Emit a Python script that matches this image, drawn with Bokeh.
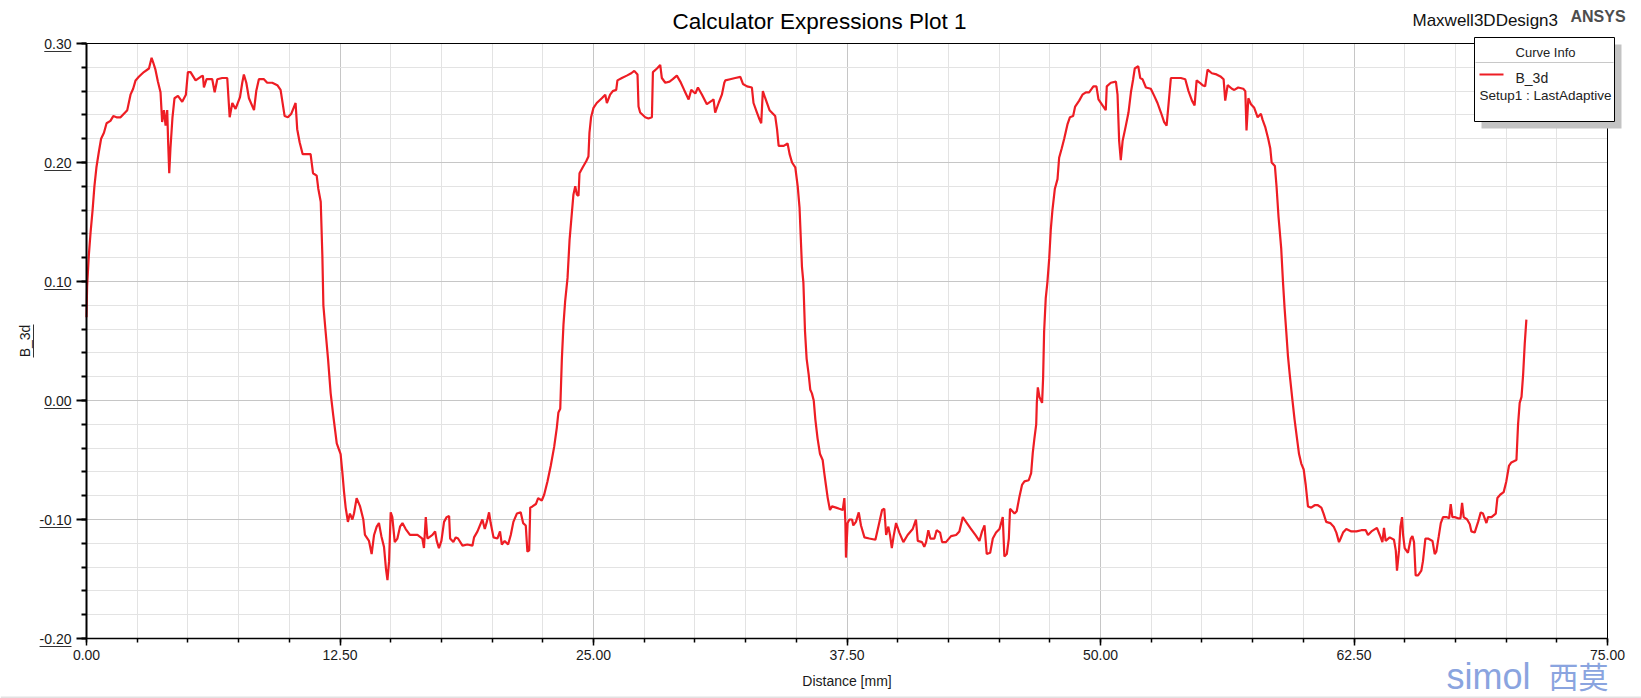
from bokeh.plotting import figure
from bokeh.models import (FixedTicker, NumeralTickFormatter, Label, BoxAnnotation, Range1d,
                          ColumnDataSource, Grid)
from bokeh.embed import file_html
from bokeh.resources import INLINE

FONT = "Liberation Sans"

# ---- data (distance mm, B_3d) ----
seg_1 = [(0.0, 0.070), (0.03, 0.096), (0.115, 0.122), (0.2, 0.141), (0.3, 0.160), (0.39, 0.180), (0.49, 0.196),
         (0.61, 0.209), (0.72, 0.220), (0.86, 0.225), (0.99, 0.233), (1.18, 0.235), (1.32, 0.239), (1.48, 0.238),
         (1.68, 0.238), (2.01, 0.244), (2.17, 0.257), (2.30, 0.262), (2.42, 0.269), (2.58, 0.272), (2.83, 0.276),
         (3.08, 0.279), (3.21, 0.288), (3.29, 0.284), (3.40, 0.278), (3.52, 0.268), (3.65, 0.259), (3.73, 0.234),
         (3.82, 0.244), (3.90, 0.231), (3.98, 0.244), (4.03, 0.215), (4.08, 0.191), (4.14, 0.212), (4.24, 0.238),
         (4.34, 0.254), (4.51, 0.256), (4.72, 0.251), (4.90, 0.257), (5.0, 0.276), (5.13, 0.276), (5.38, 0.269),
         (5.63, 0.272), (5.74, 0.273), (5.79, 0.263), (5.92, 0.270), (6.20, 0.270), (6.32, 0.259), (6.45, 0.270),
         (6.69, 0.271), (6.94, 0.271), (7.06, 0.238), (7.19, 0.250), (7.35, 0.245), (7.57, 0.255), (7.68, 0.267),
         (7.76, 0.274), (7.88, 0.267), (8.01, 0.254), (8.26, 0.244), (8.37, 0.260), (8.50, 0.270), (8.75, 0.270),
         (8.91, 0.267), (9.16, 0.267), (9.41, 0.265), (9.57, 0.261), (9.77, 0.239), (9.93, 0.238), (10.1, 0.241),
         (10.31, 0.250), (10.39, 0.228), (10.51, 0.217), (10.66, 0.207), (11.05, 0.207), (11.17, 0.191),
         (11.35, 0.189), (11.43, 0.178), (11.55, 0.167)]

seg_2 = [(11.63, 0.122), (11.68, 0.080), (11.79, 0.058), (11.91, 0.035), (12.04, 0.006), (12.17, -0.013),
         (12.34, -0.036), (12.53, -0.045), (12.62, -0.061), (12.70, -0.077), (12.78, -0.090), (12.89, -0.102),
         (12.99, -0.095), (13.11, -0.100), (13.19, -0.095), (13.32, -0.082), (13.49, -0.089), (13.65, -0.100),
         (13.73, -0.113), (13.93, -0.118), (14.06, -0.129), (14.18, -0.113), (14.31, -0.106), (14.42, -0.103),
         (14.54, -0.114), (14.67, -0.123), (14.77, -0.142), (14.84, -0.151), (14.92, -0.135), (15.00, -0.094),
         (15.08, -0.098), (15.20, -0.119), (15.33, -0.116), (15.46, -0.106), (15.58, -0.103), (15.74, -0.108),
         (15.95, -0.113), (16.32, -0.113), (16.56, -0.116), (16.64, -0.124), (16.73, -0.098), (16.81, -0.116),
         (17.06, -0.113), (17.19, -0.110), (17.27, -0.118), (17.38, -0.124), (17.50, -0.118), (17.63, -0.102),
         (17.76, -0.098), (17.88, -0.097), (17.93, -0.116), (18.09, -0.119), (18.21, -0.115), (18.32, -0.116),
         (18.54, -0.122), (18.78, -0.121), (19.03, -0.122), (19.11, -0.115), (19.28, -0.110), (19.52, -0.100),
         (19.64, -0.108), (19.74, -0.102), (19.85, -0.094), (19.93, -0.103), (20.07, -0.115), (20.26, -0.116),
         (20.39, -0.110), (20.48, -0.121), (20.62, -0.118), (20.79, -0.121), (20.92, -0.113), (21.05, -0.102),
         (21.22, -0.095), (21.41, -0.094), (21.53, -0.103), (21.66, -0.105), (21.74, -0.127), (21.83, -0.126),
         (21.88, -0.090), (21.99, -0.089), (22.16, -0.087), (22.27, -0.082), (22.45, -0.084), (22.57, -0.079),
         (22.73, -0.068), (22.89, -0.055), (23.06, -0.039), (23.19, -0.023), (23.27, -0.010), (23.36, -0.007)]

seg_3 = [(23.44, 0.035), (23.52, 0.064), (23.60, 0.083), (23.72, 0.103), (23.82, 0.135), (23.93, 0.157),
         (24.01, 0.173), (24.10, 0.180), (24.18, 0.173), (24.26, 0.172), (24.31, 0.191), (24.47, 0.196),
         (24.64, 0.201), (24.75, 0.205), (24.80, 0.225), (24.88, 0.238), (25.0, 0.246), (25.16, 0.250),
         (25.41, 0.254), (25.58, 0.257), (25.66, 0.250), (25.82, 0.257), (25.95, 0.260), (26.12, 0.261),
         (26.18, 0.269), (26.40, 0.271), (26.64, 0.273), (26.86, 0.275), (27.01, 0.277), (27.17, 0.274),
         (27.22, 0.247), (27.30, 0.242), (27.55, 0.238), (27.71, 0.237), (27.88, 0.238), (27.93, 0.276),
         (28.13, 0.279), (28.29, 0.282), (28.37, 0.271), (28.54, 0.267), (28.75, 0.268), (28.91, 0.270),
         (29.11, 0.273), (29.28, 0.268), (29.47, 0.261), (29.69, 0.253), (29.82, 0.261), (30.02, 0.258),
         (30.15, 0.263), (30.35, 0.257), (30.59, 0.249), (30.84, 0.252), (30.92, 0.253), (31.0, 0.242),
         (31.17, 0.250), (31.33, 0.257), (31.45, 0.267), (31.50, 0.269), (31.74, 0.270), (31.99, 0.271),
         (32.24, 0.272), (32.37, 0.266), (32.57, 0.264), (32.81, 0.263), (32.89, 0.250), (33.06, 0.242),
         (33.19, 0.236), (33.27, 0.233), (33.35, 0.260), (33.47, 0.254), (33.68, 0.244), (33.96, 0.239),
         (34.05, 0.228), (34.13, 0.214), (34.38, 0.214), (34.57, 0.216), (34.67, 0.207), (34.79, 0.200),
         (34.95, 0.196), (35.07, 0.180), (35.16, 0.162)]

seg_4 = [(35.28, 0.112), (35.35, 0.099), (35.43, 0.058), (35.51, 0.035), (35.61, 0.022), (35.69, 0.009),
         (35.77, 0.006), (35.86, 0.0), (35.94, -0.016), (36.05, -0.032), (36.17, -0.045), (36.30, -0.050),
         (36.38, -0.061), (36.46, -0.071), (36.55, -0.082), (36.66, -0.092), (36.76, -0.089), (36.96, -0.090),
         (37.12, -0.091), (37.29, -0.092), (37.37, -0.082), (37.42, -0.103), (37.45, -0.132), (37.53, -0.103),
         (37.62, -0.100), (37.75, -0.100), (37.81, -0.105), (37.94, -0.102), (38.08, -0.094), (38.19, -0.105),
         (38.36, -0.115), (38.60, -0.116), (38.90, -0.117), (39.06, -0.105), (39.23, -0.092), (39.34, -0.091),
         (39.43, -0.113), (39.54, -0.106), (39.62, -0.113), (39.71, -0.124), (39.80, -0.114), (39.92, -0.103),
         (40.08, -0.111), (40.28, -0.119), (40.49, -0.113), (40.74, -0.108), (40.90, -0.100), (40.99, -0.118),
         (41.20, -0.119), (41.31, -0.123), (41.40, -0.119), (41.51, -0.109), (41.61, -0.116), (41.81, -0.116),
         (41.92, -0.109), (42.09, -0.111), (42.19, -0.119), (42.38, -0.119), (42.63, -0.114), (42.88, -0.113),
         (43.04, -0.110), (43.21, -0.098), (43.37, -0.102), (43.62, -0.108), (43.83, -0.113), (44.03, -0.118),
         (44.16, -0.110), (44.28, -0.105), (44.39, -0.129), (44.56, -0.128), (44.69, -0.116), (44.85, -0.111),
         (45.02, -0.108), (45.18, -0.098), (45.26, -0.131), (45.38, -0.129), (45.48, -0.116), (45.54, -0.091),
         (45.76, -0.095), (45.87, -0.093), (46.00, -0.081), (46.13, -0.071), (46.25, -0.068), (46.46, -0.067),
         (46.58, -0.061), (46.66, -0.044), (46.74, -0.032), (46.83, -0.020), (46.86, -0.002), (46.91, 0.011),
         (46.99, 0.003), (47.12, -0.002)]

seg_5 = [(47.17, 0.019), (47.22, 0.058), (47.30, 0.086), (47.38, 0.099), (47.47, 0.119), (47.55, 0.144),
         (47.63, 0.160), (47.75, 0.178), (47.88, 0.186), (47.96, 0.204), (48.09, 0.212), (48.21, 0.220),
         (48.37, 0.232), (48.49, 0.238), (48.65, 0.239), (48.75, 0.247), (48.95, 0.252), (49.11, 0.257),
         (49.28, 0.259), (49.44, 0.259), (49.57, 0.262), (49.65, 0.264), (49.80, 0.264), (49.90, 0.253),
         (50.10, 0.248), (50.26, 0.244), (50.31, 0.264), (50.51, 0.267), (50.76, 0.268), (50.84, 0.257),
         (50.92, 0.218), (51.0, 0.202), (51.09, 0.218), (51.25, 0.231), (51.38, 0.242), (51.50, 0.259),
         (51.61, 0.270), (51.69, 0.279), (51.86, 0.281), (51.96, 0.271), (52.07, 0.270), (52.24, 0.263),
         (52.48, 0.262), (52.65, 0.256), (52.81, 0.250), (52.98, 0.242), (53.14, 0.234), (53.26, 0.231),
         (53.36, 0.250), (53.47, 0.271), (53.72, 0.271), (53.96, 0.271), (54.18, 0.270), (54.34, 0.260),
         (54.51, 0.252), (54.64, 0.248), (54.74, 0.269), (54.90, 0.267), (55.03, 0.265), (55.16, 0.264),
         (55.28, 0.278), (55.49, 0.275), (55.72, 0.274), (55.94, 0.272), (56.07, 0.270), (56.15, 0.252),
         (56.27, 0.265), (56.48, 0.262), (56.60, 0.261), (56.79, 0.263), (57.04, 0.262), (57.14, 0.260),
         (57.20, 0.227), (57.29, 0.254), (57.42, 0.249), (57.58, 0.246), (57.75, 0.238), (57.91, 0.241),
         (57.99, 0.236), (58.12, 0.230), (58.27, 0.220), (58.37, 0.212), (58.44, 0.200), (58.60, 0.197),
         (58.68, 0.180), (58.78, 0.154)]

seg_6 = [(58.91, 0.128), (59.0, 0.099), (59.08, 0.077), (59.16, 0.058), (59.24, 0.038), (59.33, 0.022),
         (59.46, 0.001), (59.57, -0.016), (59.69, -0.032), (59.79, -0.045), (59.90, -0.053), (60.02, -0.058),
         (60.12, -0.071), (60.23, -0.089), (60.39, -0.090), (60.56, -0.088), (60.72, -0.088), (60.89, -0.090),
         (61.0, -0.095), (61.13, -0.102), (61.33, -0.103), (61.50, -0.106), (61.63, -0.111), (61.76, -0.119),
         (61.84, -0.116), (61.96, -0.111), (62.12, -0.108), (62.37, -0.110), (62.62, -0.110), (62.86, -0.109),
         (63.08, -0.109), (63.19, -0.113), (63.36, -0.110), (63.63, -0.107), (63.77, -0.113), (63.90, -0.119),
         (63.98, -0.107), (64.06, -0.118), (64.26, -0.115), (64.47, -0.117), (64.56, -0.126), (64.62, -0.143),
         (64.72, -0.126), (64.79, -0.106), (64.87, -0.098), (64.92, -0.113), (65.0, -0.124), (65.16, -0.128),
         (65.30, -0.116), (65.38, -0.114), (65.46, -0.119), (65.54, -0.147), (65.66, -0.147), (65.82, -0.143),
         (65.90, -0.135), (66.02, -0.116), (66.15, -0.116), (66.37, -0.118), (66.48, -0.129), (66.56, -0.127),
         (66.68, -0.114), (66.78, -0.103), (66.89, -0.098), (67.06, -0.098), (67.19, -0.099), (67.27, -0.087),
         (67.35, -0.098), (67.47, -0.098), (67.63, -0.099), (67.75, -0.099), (67.83, -0.086), (67.91, -0.098),
         (68.08, -0.100), (68.21, -0.104), (68.29, -0.110), (68.45, -0.111), (68.62, -0.102), (68.75, -0.094),
         (68.86, -0.095), (69.03, -0.103), (69.11, -0.098), (69.28, -0.098), (69.49, -0.095), (69.57, -0.082),
         (69.72, -0.079), (69.88, -0.077), (70.01, -0.068), (70.14, -0.055), (70.26, -0.052), (70.51, -0.050),
         (70.59, -0.020), (70.67, -0.002), (70.76, 0.003), (70.84, 0.022), (70.92, 0.048), (71.0, 0.068)]

X_TICKS = [0.0, 12.5, 25.0, 37.5, 50.0, 62.5, 75.0]
X_MINOR = [i * 2.5 for i in range(31)]
Y_TICKS = [-0.2, -0.1, 0.0, 0.1, 0.2, 0.3]
Y_MINOR = [round(-0.2 + i * 0.02, 2) for i in range(26)]
X_LIM = (0.0, 75.0)
Y_LIM = (-0.2, 0.3)

TITLE = "Calculator Expressions Plot 1"
DESIGN = "Maxwell3DDesign3"
CURVE = "B_3d"
SOLUTION = "Setup1 : LastAdaptive"

points = seg_1 + seg_2 + seg_3 + seg_4 + seg_5 + seg_6
src = ColumnDataSource(dict(x=[pt[0] for pt in points], y=[pt[1] for pt in points]))

# ---- canvas geometry (pixels) ----
W, H = 1641, 698
PX0, PX1, PY0, PY1 = 86, 1607, 43, 638          # plot area in canvas pixels
SX = (X_LIM[1] - X_LIM[0]) / (PX1 - PX0)        # data per px
SY = (Y_LIM[1] - Y_LIM[0]) / (PY1 - PY0)

def dx(px):
    return X_LIM[0] + (px - PX0) * SX

def dy(py):
    return Y_LIM[1] - (py - PY0) * SY

p = figure(width=W, height=H,
           x_range=Range1d(dx(0), dx(W)), y_range=Range1d(dy(H), dy(0)),
           output_backend="svg", toolbar_location=None,
           min_border=0, min_border_left=0, min_border_right=0, min_border_top=0, min_border_bottom=0)
p.title = None
p.background_fill_color = "white"
p.border_fill_color = "white"
p.outline_line_color = None

# axes, pinned to the plot area
p.xaxis.fixed_location = Y_LIM[0]
p.yaxis.fixed_location = X_LIM[0]
p.xaxis.bounds = X_LIM
p.yaxis.bounds = Y_LIM
p.xaxis.ticker = FixedTicker(ticks=X_TICKS, minor_ticks=X_MINOR)
p.yaxis.ticker = FixedTicker(ticks=Y_TICKS, minor_ticks=Y_MINOR)
p.xaxis.formatter = NumeralTickFormatter(format="0.00")
p.yaxis.formatter = NumeralTickFormatter(format="0.00")
for ax in (p.xaxis, p.yaxis):
    ax.axis_line_color = "black"
    ax.major_tick_line_color = "black"
    ax.minor_tick_line_color = "black"
    ax.major_tick_in = 0
    ax.minor_tick_in = 0
    ax.major_label_text_font = FONT
    ax.major_label_text_font_size = "14px"
    ax.major_label_text_color = "#1a1a1a"
    ax.axis_label_text_font = FONT
    ax.axis_label_text_font_size = "14px"
    ax.axis_label_text_font_style = "normal"
    ax.axis_label_text_color = "#1a1a1a"
p.xaxis.axis_line_width = 1.5
p.xaxis.major_tick_line_width = 1.5
p.xaxis.minor_tick_line_width = 1.5
p.xaxis.major_tick_out = 7
p.xaxis.minor_tick_out = 4
p.xaxis.major_label_standoff = 4
p.xaxis.axis_label = "Distance [mm]"
p.xaxis.axis_label_standoff = 10

p.yaxis.axis_line_width = 2
p.yaxis.major_tick_line_width = 2
p.yaxis.minor_tick_line_width = 2
p.yaxis.major_tick_out = 10
p.yaxis.minor_tick_out = 5
p.yaxis.major_label_standoff = 5
p.yaxis.axis_label = CURVE
p.yaxis.axis_label_standoff = 4

# grid limited to the plot area
has_cross = "cross_bounds" in Grid.properties()
for g in (p.xgrid, p.ygrid):
    g.grid_line_color = "#c6c6c6"
    g.grid_line_width = 1
    g.minor_grid_line_color = "#e3e3e3"
    g.minor_grid_line_width = 1
if has_cross:
    p.xgrid.bounds = X_LIM
    p.xgrid.cross_bounds = Y_LIM
    p.ygrid.bounds = Y_LIM
    p.ygrid.cross_bounds = X_LIM
else:
    for g in (p.xgrid, p.ygrid):
        g.visible = False
    xm = [t for t in X_MINOR if t not in X_TICKS]
    ym = [t for t in Y_MINOR if all(abs(t - m) > 1e-9 for m in Y_TICKS)]
    p.segment(x0=xm, x1=xm, y0=[Y_LIM[0]] * len(xm), y1=[Y_LIM[1]] * len(xm), line_color="#e3e3e3", line_width=1)
    p.segment(x0=[X_LIM[0]] * len(ym), x1=[X_LIM[1]] * len(ym), y0=ym, y1=ym, line_color="#e3e3e3", line_width=1)
    p.segment(x0=X_TICKS, x1=X_TICKS, y0=[Y_LIM[0]] * len(X_TICKS), y1=[Y_LIM[1]] * len(X_TICKS),
              line_color="#c6c6c6", line_width=1)
    p.segment(x0=[X_LIM[0]] * len(Y_TICKS), x1=[X_LIM[1]] * len(Y_TICKS), y0=Y_TICKS, y1=Y_TICKS,
              line_color="#c6c6c6", line_width=1)

# curve
p.line("x", "y", source=src, line_color="#ee1d24", line_width=2.2)

# plot-area border (top / right)
p.add_layout(BoxAnnotation(left=X_LIM[0], right=X_LIM[1], bottom=Y_LIM[0], top=Y_LIM[1],
                           fill_alpha=0, line_color="black", line_width=1, line_alpha=1))

# underlines of y tick labels and axis title (ANSYS style)
def text_w(s, size=14):
    w = {"-": 0.333, ".": 0.278}
    return sum(w.get(c, 0.556) for c in s) * size

for v in Y_TICKS:
    s = "%.2f" % v
    right_px = PX0 - 15
    left_px = right_px - text_w(s)
    ypx = PY0 + (Y_LIM[1] - v) / SY + 8
    p.add_layout(BoxAnnotation(left=dx(left_px), right=dx(right_px), top=dy(ypx - 0.5), bottom=dy(ypx + 0.5),
                               fill_color="#333333", fill_alpha=1, line_alpha=0))
p.add_layout(BoxAnnotation(left=dx(32.5), right=dx(33.5), top=dy(324), bottom=dy(357),
                           fill_color="#333333", fill_alpha=1, line_alpha=0))

# title and header texts
p.add_layout(Label(x=dx(819), y=dy(21), text=TITLE, text_align="center", text_baseline="middle",
                   text_font=FONT, text_font_size="22.5px", text_color="black"))
p.add_layout(Label(x=dx(1412), y=dy(20), text=DESIGN, text_align="left",
                   text_baseline="middle", text_font=FONT, text_font_size="17px", text_color="#111111"))
p.add_layout(Label(x=dx(1570), y=dy(16), text="ANSYS", text_align="left",
                   text_baseline="middle", text_font=FONT, text_font_size="16px", text_font_style="bold",
                   text_color="#4d4d4d"))

# curve info box
p.add_layout(BoxAnnotation(left=dx(1481), right=dx(1621), top=dy(44), bottom=dy(128),
                           fill_color="#c3c3c3", fill_alpha=1, line_alpha=0))
p.add_layout(BoxAnnotation(left=dx(1474), right=dx(1614), top=dy(37), bottom=dy(121),
                           fill_color="white", fill_alpha=1, line_color="black", line_width=1, line_alpha=1))
p.add_layout(BoxAnnotation(left=dx(1475), right=dx(1613), top=dy(61.5), bottom=dy(62.5),
                           fill_color="#c8c8c8", fill_alpha=1, line_alpha=0))
p.add_layout(BoxAnnotation(left=dx(1479), right=dx(1503), top=dy(73), bottom=dy(75),
                           fill_color="#ee1d24", fill_alpha=1, line_alpha=0))
p.add_layout(Label(x=dx(1545), y=dy(52), text="Curve Info", text_align="center",
                   text_baseline="middle", text_font=FONT, text_font_size="13px", text_color="#222222"))
p.add_layout(Label(x=dx(1515), y=dy(77), text=CURVE, text_align="left",
                   text_baseline="middle", text_font=FONT, text_font_size="14px", text_color="#222222"))
p.add_layout(Label(x=dx(1479), y=dy(95), text=SOLUTION, text_align="left",
                   text_baseline="middle", text_font=FONT, text_font_size="13.5px", text_color="#222222"))

# faint page-bottom rule
p.add_layout(BoxAnnotation(left=dx(0), right=dx(W), top=dy(696), bottom=dy(697.5),
                           fill_color="#e2e2e2", fill_alpha=1, line_alpha=0))

# watermark
p.add_layout(Label(x=dx(1446), y=dy(676), text="simol", text_align="left",
                   text_baseline="middle", text_font=FONT, text_font_size="36px", text_color="#8aa4df"))
p.add_layout(Label(x=dx(1548), y=dy(674), text="西莫", text_align="left",
                   text_baseline="middle", text_font="Noto Sans CJK SC", text_font_size="30px",
                   text_color="#8aa4df"))

open("out.html", "w").write(file_html(p, INLINE))
